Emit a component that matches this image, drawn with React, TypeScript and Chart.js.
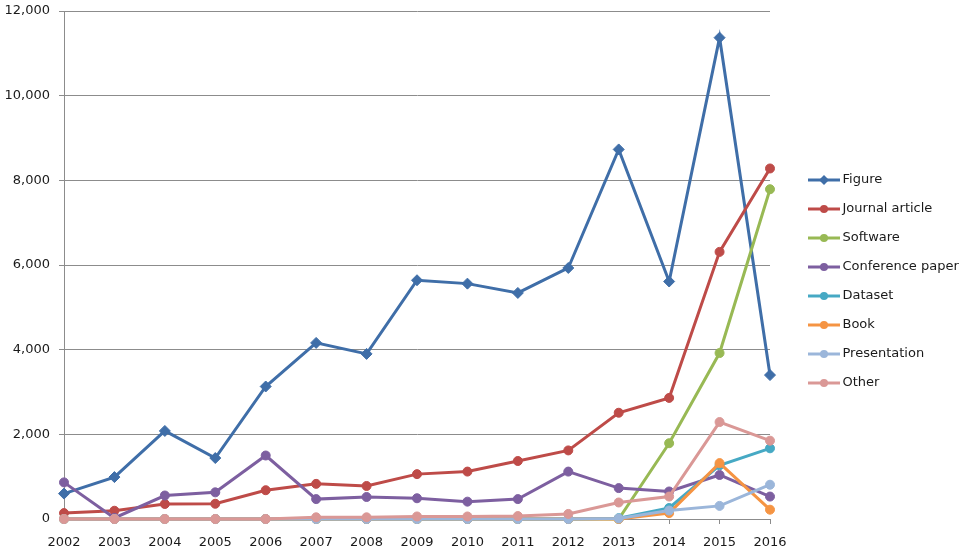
import React, { useEffect, useRef } from 'react';
import Chart from 'chart.js/auto';

const years = ['2002', '2003', '2004', '2005', '2006', '2007', '2008', '2009', '2010', '2011', '2012', '2013', '2014', '2015', '2016'];

const figure = [600, 990, 2080, 1440, 3130, 4160, 3900, 5640, 5560, 5340, 5930, 8730, 5610, 11370, 3400];
const journalArticle = [140, 195, 355, 360, 680, 830, 780, 1060, 1120, 1370, 1620, 2510, 2860, 6310, 8280];
const software = [0, 0, 0, 0, 0, 0, 0, 0, 0, 0, 0, 0, 1790, 3920, 7790];
const conferencePaper = [865, 25, 555, 630, 1500, 470, 520, 490, 410, 470, 1120, 730, 650, 1040, 530];
const dataset = [0, 0, 0, 0, 0, 0, 0, 0, 0, 0, 0, 20, 260, 1270, 1670];
const book = [0, 0, 0, 0, 0, 0, 0, 0, 0, 0, 0, 0, 140, 1320, 220];
const presentation = [0, 0, 0, 0, 0, 0, 0, 0, 0, 0, 0, 10, 200, 310, 810];
const other = [0, 0, 0, 0, 0, 40, 40, 60, 60, 70, 120, 390, 530, 2290, 1850];

const yTicks = [0, 2000, 4000, 6000, 8000, 10000, 12000];

const series = [
  { label: 'Figure', data: figure, color: '#3f6ea8', marker: 'rectRot' },
  { label: 'Journal article', data: journalArticle, color: '#be4b48', marker: 'circle' },
  { label: 'Software', data: software, color: '#98b954', marker: 'circle' },
  { label: 'Conference paper', data: conferencePaper, color: '#7d5fa0', marker: 'circle' },
  { label: 'Dataset', data: dataset, color: '#46a9c4', marker: 'circle' },
  { label: 'Book', data: book, color: '#f59443', marker: 'circle' },
  { label: 'Presentation', data: presentation, color: '#9bb6da', marker: 'circle' },
  { label: 'Other', data: other, color: '#da9896', marker: 'circle' },
];

// small line + marker picture used as the legend symbol
function legendIcon(color: string, marker: string) {
  const c = document.createElement('canvas');
  c.width = 58;
  c.height = 14;
  const ctx = c.getContext('2d');
  if (ctx) {
    ctx.strokeStyle = color;
    ctx.fillStyle = color;
    ctx.lineWidth = 3;
    ctx.beginPath();
    ctx.moveTo(26, 7);
    ctx.lineTo(58, 7);
    ctx.stroke();
    ctx.beginPath();
    if (marker === 'rectRot') {
      ctx.moveTo(42, 2);
      ctx.lineTo(47, 7);
      ctx.lineTo(42, 12);
      ctx.lineTo(37, 7);
      ctx.closePath();
    } else {
      ctx.arc(42, 7, 4, 0, Math.PI * 2);
    }
    ctx.fill();
  }
  return c;
}

const App: React.FC = () => {
  const chartRef = useRef<HTMLCanvasElement>(null);
  const chartInstance = useRef<Chart | null>(null);

  useEffect(() => {
    if (!chartRef.current) return;
    if (chartInstance.current) {
      chartInstance.current.destroy();
    }

    const icons = series.map(s => legendIcon(s.color, s.marker));
    const gridColor = '#8c8c8c';

    chartInstance.current = new Chart(chartRef.current, {
      type: 'line',
      data: {
        labels: years,
        datasets: series.map((s, i) => ({
          label: s.label,
          data: s.data,
          borderColor: s.color,
          backgroundColor: s.color,
          borderWidth: 3,
          pointStyle: s.marker,
          pointRadius: s.marker === 'rectRot' ? 5.5 : 4.5,
          pointBackgroundColor: s.color,
          pointBorderColor: s.color,
          pointBorderWidth: 1,
          tension: 0,
          fill: false,
          clip: false,
          order: series.length - i,
        })),
      },
      options: {
        animation: false,
        responsive: true,
        maintainAspectRatio: false,
        layout: {
          padding: { top: 11, right: 0, bottom: 0, left: 0 },
        },
        font: { family: 'DejaVu Sans', size: 13 },
        plugins: {
          tooltip: { enabled: false },
          legend: {
            position: 'right',
            maxWidth: 195,
            labels: {
              usePointStyle: true,
              pointStyleWidth: 50,
              padding: 16,
              color: '#1a1a1a',
              font: { family: 'DejaVu Sans', size: 13 },
              sort: (a, b) => (a.datasetIndex ?? 0) - (b.datasetIndex ?? 0),
              generateLabels: chart => {
                const items = Chart.defaults.plugins.legend.labels.generateLabels(chart);
                return items.map(item => ({
                  ...item,
                  pointStyle: icons[item.datasetIndex ?? 0],
                }));
              },
            },
          },
        },
        scales: {
          x: {
            type: 'category',
            offset: false,
            afterFit: scale => {
              scale.height = 33;
              scale.paddingLeft = 0;
              scale.paddingRight = 0;
            },
            grid: {
              drawOnChartArea: false,
              drawTicks: true,
              tickLength: 5,
              color: gridColor,
            },
            border: { display: true, color: gridColor, width: 1 },
            ticks: {
              padding: 11,
              color: '#1a1a1a',
              font: { family: 'DejaVu Sans', size: 13 },
              maxRotation: 0,
              autoSkip: false,
            },
          },
          y: {
            min: yTicks[0],
            max: yTicks[yTicks.length - 1],
            afterFit: scale => {
              scale.width = 64;
              scale.paddingTop = 0;
              scale.paddingBottom = 0;
            },
            afterBuildTicks: scale => {
              scale.ticks = yTicks.map(v => ({ value: v }));
            },
            grid: {
              color: gridColor,
              lineWidth: 1,
              drawTicks: true,
              tickLength: 5,
            },
            border: { display: true, color: gridColor, width: 1 },
            ticks: {
              padding: 9,
              color: '#1a1a1a',
              font: { family: 'DejaVu Sans', size: 13 },
              callback: value => Number(value).toLocaleString('en-US'),
            },
          },
        },
      },
    });

    return () => {
      if (chartInstance.current) {
        chartInstance.current.destroy();
        chartInstance.current = null;
      }
    };
  }, []);

  return (
    <div style={{ position: 'absolute', left: 0, top: 0, width: 965, height: 552, background: '#fff' }}>
      <canvas ref={chartRef}></canvas>
    </div>
  );
};

export default App;
